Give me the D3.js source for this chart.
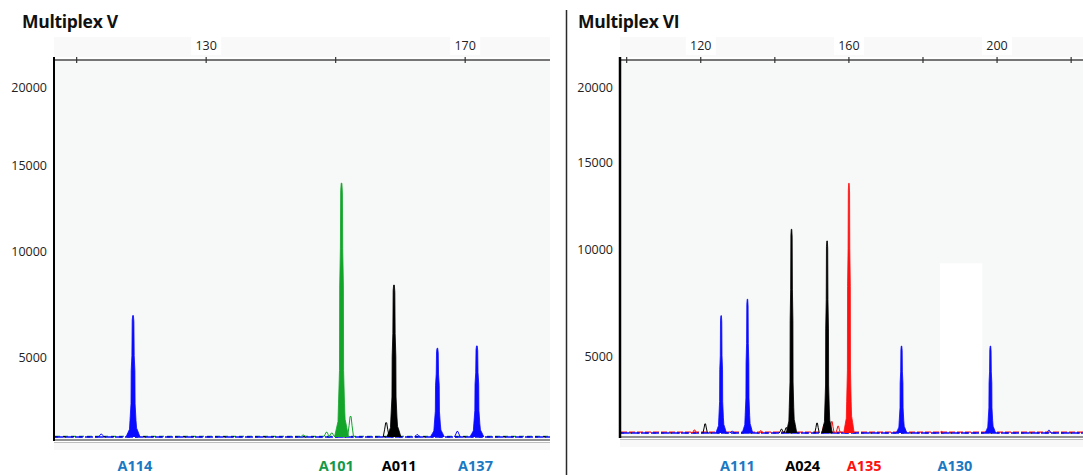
<!DOCTYPE html>
<html>
<head>
<meta charset="utf-8">
<script src="https://cdn.jsdelivr.net/npm/d3@7"></script>
<style>
  html, body { margin: 0; padding: 0; background: #fff; }
  svg { display: block; font-family: "Open Sans", "DejaVu Sans", sans-serif; }
</style>
</head>
<body>
<svg id="chart" width="1083" height="475"></svg>
<script>
"use strict"

/****** DATA ******/
const yTickValues = [5000, 10000, 15000, 20000]

// Multiplex V
const vTitle = 'Multiplex V'
const vTicks = [110, 130, 150, 170]
const vTickLabels = [130, 170]
const vBluePeaks = [[118.7, 7000], [165.7, 5460], [171.8, 5570]]
const vGreenPeaks = [[150.9, 14000]]
const vBlackPeaks = [[159.0, 8440]]
const vMinorPeaks = [[113.8, 180, 'blue'], [148.6, 300, 'green'], [149.4, 250, 'green'], [152.3, 1300, 'green'], [157.8, 900, 'black'], [168.8, 350, 'blue'], [162.6, 150, 'blue'], [145.0, 120, 'green']]
const vMarkers = ['A114', 'A101', 'A011', 'A137']
const vMarkerPos = [119.0, 150.1, 159.8, 171.6]
const vMarkerDye = ['blueLabel', 'greenLabel', 'black', 'blueLabel']

// Multiplex VI
const wTitle = 'Multiplex VI'
const wTicks = [100, 120, 140, 160, 180, 200, 220]
const wTickLabels = [120, 160, 200]
const wBluePeaks = [[125.5, 6930], [132.6, 7700], [174.2, 5510], [198.2, 5510]]
const wBlackPeaks = [[144.5, 11190], [154.1, 10520]]
const wRedPeaks = [[160.0, 13830]]
const wMinorPeaks = [[121.2, 600, 'black'], [118.3, 200, 'red'], [136.2, 150, 'red'], [141.8, 250, 'black'], [143.1, 350, 'black'], [151.4, 650, 'black'], [153.3, 550, 'red'], [155.4, 750, 'red'], [157.1, 450, 'red'], [185.0, 100, 'red'], [214.0, 180, 'blue'], [128.5, 120, 'blue']]
const wMarkers = ['A111', 'A024', 'A135', 'A130']
const wMarkerPos = [129.9, 147.5, 164.1, 188.6]
const wMarkerDye = ['blueLabel', 'black', 'red', 'blueLabel']
const wMaskBox = [184.6, 196.0, 9380]

/****** STYLE ******/
const dyeColor = {
  blue: '#0a0aff', green: '#12a52a', black: '#000000', red: '#ff1010',
  blueLabel: '#1b78c2', greenLabel: '#14994a',
}
// half-shape of a peak, px offset vs fraction of peak height
const peakProfile = [[-7, 0], [-5, 0.04], [-3.5, 0.07], [-3, 0.15], [-2, 0.3], [-1.8, 0.6], [-1.1, 0.73], [-0.8, 0.97], [-0.3, 1], [0.4, 1], [0.9, 0.96], [1.2, 0.73], [1.9, 0.6], [2.1, 0.3], [3, 0.15], [3.6, 0.08], [5, 0.05], [7, 0]]
const humpProfile = [[-3, 0], [-1.5, 0.55], [-0.5, 1], [0.5, 1], [1.5, 0.55], [3, 0]]

const svg = d3.select('#chart')

function drawPanel(cfg) {
  const x = d3.scaleLinear().domain(cfg.xDomain).range(cfg.xRange)
  const y = d3.scaleLinear().domain([0, 5000, 10000, 15000, 20000]).range(cfg.yRange)
  const g = svg.append('g')
  const [x0, x1] = cfg.xRange
  const base = y(0)

  // header band behind the size labels
  g.append('rect').attr('x', x0).attr('y', 37).attr('width', x1 - x0).attr('height', 20).attr('fill', '#f9f9f9')
  // plot background
  g.append('rect').attr('x', x0).attr('y', cfg.top).attr('width', x1 - x0).attr('height', cfg.bottom - cfg.top).attr('fill', '#f7f8f8')
  g.append('rect').attr('x', x0).attr('y', cfg.bottom + 2).attr('width', x1 - x0).attr('height', 8).attr('fill', '#f8f8f8')

  if (cfg.mask) {
    g.append('rect')
      .attr('x', x(cfg.mask[0])).attr('width', x(cfg.mask[1]) - x(cfg.mask[0]))
      .attr('y', y(cfg.mask[2])).attr('height', base - y(cfg.mask[2]))
      .attr('fill', '#ffffff')
  }

  // title
  g.append('text').attr('x', cfg.titleX).attr('y', 28)
    .attr('font-size', 17.5).attr('font-weight', 700).attr('letter-spacing', -0.3).attr('fill', '#111')
    .text(cfg.title)

  // top size axis
  g.append('line').attr('x1', x0).attr('x2', x1).attr('y1', cfg.top).attr('y2', cfg.top)
    .attr('stroke', '#4a4a4a').attr('stroke-width', 1.5)
  g.selectAll('line.tick').data(cfg.ticks).enter().append('line').attr('class', 'tick')
    .attr('x1', d => x(d)).attr('x2', d => x(d)).attr('y1', cfg.top - 3).attr('y2', cfg.top + 3)
    .attr('stroke', '#333').attr('stroke-width', 1.2)
  const labels = g.selectAll('g.tl').data(cfg.tickLabels).enter().append('g').attr('class', 'tl')
  labels.append('rect').attr('x', d => x(d) - 15).attr('y', 37).attr('width', 30).attr('height', 18).attr('fill', '#fff')
  labels.append('text').attr('x', d => x(d)).attr('y', 46).attr('dy', '0.35em')
    .attr('text-anchor', 'middle').attr('font-size', 12.5).attr('fill', '#222').text(d => d)

  // y labels
  g.selectAll('text.yl').data(yTickValues).enter().append('text').attr('class', 'yl')
    .attr('x', x0 - 7).attr('y', d => y(d)).attr('dy', '0.35em')
    .attr('text-anchor', 'end').attr('font-size', 12.5).attr('fill', '#222').text(d => d)

  // baseline noise traces
  const noise = [['green', 40, '5,3'], ['black', 20, '3,5'], ['red', 60, '6,2'], ['blue', 0, '8,2']]
  noise.filter(n => cfg.dyes.includes(n[0])).forEach(([dye, v, dash]) => {
    g.append('line').attr('x1', x0 + 1).attr('x2', x1).attr('y1', y(v)).attr('y2', y(v))
      .attr('stroke', dyeColor[dye]).attr('stroke-width', 1.4).attr('stroke-dasharray', dash)
  })

  const line = d3.line()
  const peakPath = (bp, h, profile, scaleW) => line(profile.map(([dx, f]) => [x(bp) + dx * scaleW, y(h * f)]))

  // minor humps (outline only)
  g.selectAll('path.minor').data(cfg.minor).enter().append('path').attr('class', 'minor')
    .attr('d', d => peakPath(d[0], d[1], humpProfile, cfg.peakW))
    .attr('fill', 'none').attr('stroke', d => dyeColor[d[2]]).attr('stroke-width', 1)

  // main peaks
  cfg.peaks.forEach(([dye, list]) => {
    g.selectAll(null).data(list).enter().append('path')
      .attr('d', d => peakPath(d[0], d[1], peakProfile, cfg.peakW))
      .attr('fill', dyeColor[dye]).attr('stroke', dyeColor[dye]).attr('stroke-width', 0.8).attr('stroke-linejoin', 'round')
  })

  // axes frame
  g.append('line').attr('x1', x0).attr('x2', x1).attr('y1', cfg.bottom).attr('y2', cfg.bottom)
    .attr('stroke', '#6e6e6e').attr('stroke-width', 1.5)
  g.append('line').attr('x1', x0).attr('x2', x1).attr('y1', cfg.bottom + 2.5).attr('y2', cfg.bottom + 2.5)
    .attr('stroke', '#bdbdbd').attr('stroke-width', 1)
  g.append('line').attr('x1', x0).attr('x2', x0).attr('y1', cfg.top - 3).attr('y2', cfg.bottom + 1)
    .attr('stroke', '#000').attr('stroke-width', cfg.axisW)

  // marker names
  g.selectAll('text.mk').data(cfg.markers).enter().append('text').attr('class', 'mk')
    .attr('x', (d, i) => x(cfg.markerPos[i])).attr('y', 466).attr('dy', '0.35em')
    .attr('text-anchor', 'middle').attr('font-size', 14.5).attr('font-weight', 700)
    .attr('fill', (d, i) => dyeColor[cfg.markerDye[i]]).text(d => d)
}

drawPanel({
  title: vTitle, titleX: 22,
  xDomain: [106.5, 183.1], xRange: [54, 550],
  yRange: [437, 358, 252, 166, 88],
  top: 60, bottom: 440, axisW: 2,
  ticks: vTicks, tickLabels: vTickLabels,
  dyes: ['green', 'black', 'blue'],
  peaks: [['green', vGreenPeaks], ['black', vBlackPeaks], ['blue', vBluePeaks]],
  minor: vMinorPeaks, peakW: 1,
  markers: vMarkers, markerPos: vMarkerPos, markerDye: vMarkerDye,
})

drawPanel({
  title: wTitle, titleX: 578,
  xDomain: [98.2, 223.2], xRange: [620, 1083],
  yRange: [433, 357, 250, 163, 88],
  top: 60, bottom: 437, axisW: 2.5,
  ticks: wTicks, tickLabels: wTickLabels,
  dyes: ['black', 'red', 'blue'],
  peaks: [['black', wBlackPeaks], ['red', wRedPeaks], ['blue', wBluePeaks]],
  minor: wMinorPeaks, peakW: 0.75, mask: wMaskBox,
  markers: wMarkers, markerPos: wMarkerPos, markerDye: wMarkerDye,
})

// divider between the two panels
svg.append('line').attr('x1', 566.5).attr('x2', 566.5).attr('y1', 10).attr('y2', 475)
  .attr('stroke', '#2a2a2a').attr('stroke-width', 1.5)
</script>
</body>
</html>
